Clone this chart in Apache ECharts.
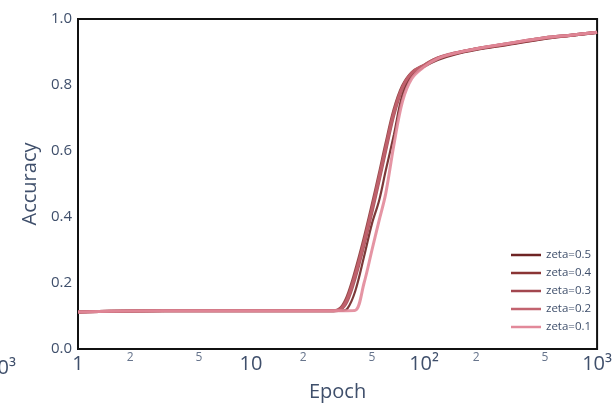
<!DOCTYPE html>
<html>
<head>
<meta charset="utf-8">
<script src="https://cdn.jsdelivr.net/npm/echarts@6/dist/echarts.min.js"></script>
<style>
html,body{margin:0;padding:0;background:#fff;}
#chart{width:615px;height:407px;}
</style>
</head>
<body>
<div id="chart"></div>
<script>
// ---- data ----
const epochs = [1, 2, 5, 10, 20, 30, 33, 36, 40, 45, 50, 55, 60, 67, 75, 85, 100, 120, 150, 200, 300, 500, 700, 1000];
const zeta05 = [0.112, 0.115, 0.116, 0.116, 0.116, 0.116, 0.116, 0.122, 0.175, 0.28, 0.38, 0.45, 0.54, 0.65, 0.77, 0.828, 0.855, 0.876, 0.892, 0.906, 0.921, 0.94, 0.949, 0.958];
const zeta04 = [0.112, 0.115, 0.116, 0.116, 0.116, 0.116, 0.125, 0.16, 0.235, 0.335, 0.435, 0.53, 0.62, 0.725, 0.797, 0.838, 0.86, 0.882, 0.896, 0.91, 0.924, 0.943, 0.951, 0.96];
const zeta03 = [0.112, 0.115, 0.116, 0.116, 0.116, 0.116, 0.12, 0.145, 0.215, 0.315, 0.415, 0.51, 0.60, 0.71, 0.79, 0.835, 0.858, 0.88, 0.895, 0.909, 0.923, 0.942, 0.95, 0.959];
const zeta02 = [0.112, 0.115, 0.116, 0.116, 0.116, 0.116, 0.122, 0.152, 0.225, 0.325, 0.425, 0.52, 0.61, 0.718, 0.793, 0.837, 0.86, 0.882, 0.897, 0.91, 0.925, 0.943, 0.951, 0.96];
const zeta01 = [0.112, 0.115, 0.116, 0.116, 0.116, 0.116, 0.116, 0.116, 0.117, 0.20, 0.30, 0.39, 0.47, 0.62, 0.75, 0.82, 0.855, 0.88, 0.896, 0.91, 0.925, 0.943, 0.951, 0.96];
const seriesNames = ['zeta=0.5', 'zeta=0.4', 'zeta=0.3', 'zeta=0.2', 'zeta=0.1'];
const seriesValues = [zeta05, zeta04, zeta03, zeta02, zeta01];
const seriesColors = ['#6e2424', '#8a3434', '#a2474f', '#c2636f', '#e2899a'];
const yTicks = [0, 0.2, 0.4, 0.6, 0.8, 1.0];
const xMajorLabels = {1: '1', 10: '10', 100: '10\u00b2', 1000: '10\u00b3'};
const xMinorTicks = [2, 5, 20, 50, 200, 500];
const xMinorLabels = ['2', '5', '2', '5', '2', '5'];

const textColor = '#3f4f6b';
const font = 'Open Sans';

const chart = echarts.init(document.getElementById('chart'), null, {renderer: 'canvas'});

const series = seriesNames.map((name, i) => ({
  name: name,
  type: 'line',
  data: epochs.map((e, j) => [e, seriesValues[i][j]]),
  smooth: 0.35,
  showSymbol: false,
  symbol: 'none',
  lineStyle: {color: seriesColors[i], width: i === 0 ? 2.2 : 3, opacity: 0.9},
  itemStyle: {color: seriesColors[i]},
  z: 2 + i
}));

chart.setOption({
  animation: false,
  backgroundColor: '#fff',
  textStyle: {fontFamily: font},
  grid: {left: 78, right: 11, top: 19, bottom: 58, show: true, borderColor: '#111', borderWidth: 2, backgroundColor: 'transparent', containLabel: false},
  legend: {
    orient: 'vertical',
    left: 506,
    top: 243,
    icon: 'rect',
    itemWidth: 30,
    itemHeight: 2.5,
    itemGap: 4,
    data: seriesNames,
    textStyle: {color: textColor, fontSize: 11.5, lineHeight: 14, fontFamily: font}
  },
  xAxis: {
    type: 'log',
    logBase: 10,
    min: 1,
    max: 1000,
    name: 'Epoch',
    nameLocation: 'middle',
    nameGap: 33,
    nameTextStyle: {color: textColor, fontSize: 20, fontFamily: font},
    axisLine: {show: false},
    axisTick: {show: false},
    splitLine: {show: false},
    minorTick: {show: false},
    axisLabel: {
      color: textColor, fontSize: 20, margin: 5, fontFamily: font,
      formatter: v => xMajorLabels[Math.round(v)] || ''
    }
  },
  yAxis: {
    type: 'value',
    min: 0,
    max: 1,
    interval: 0.2,
    name: 'Accuracy',
    nameLocation: 'middle',
    nameGap: 29,
    nameTextStyle: {color: textColor, fontSize: 20, fontFamily: font},
    axisLine: {show: false},
    axisTick: {show: false},
    splitLine: {show: false},
    axisLabel: {color: textColor, fontSize: 15, margin: 6, fontFamily: font, formatter: v => v.toFixed(1)}
  },
  series: series
});

// minor tick labels placed through the axis scale
const yBase = chart.convertToPixel({yAxisIndex: 0}, yTicks[0]);
const graphics = xMinorTicks.map((v, i) => ({
  type: 'text',
  x: chart.convertToPixel({xAxisIndex: 0}, v),
  y: yBase + 9,
  silent: true,
  style: {text: xMinorLabels[i], fill: '#66748c', font: '12px "Open Sans"', textAlign: 'center', textVerticalAlign: 'middle'}
}));
// clipped label of neighbouring panel at the left edge
graphics.push({
  type: 'text', x: 16, y: yBase + 19, silent: true,
  style: {text: '10\u00b3', fill: textColor, font: '20px "Open Sans"', textAlign: 'right', textVerticalAlign: 'middle'}
});
chart.setOption({graphic: graphics});
</script>
</body>
</html>
